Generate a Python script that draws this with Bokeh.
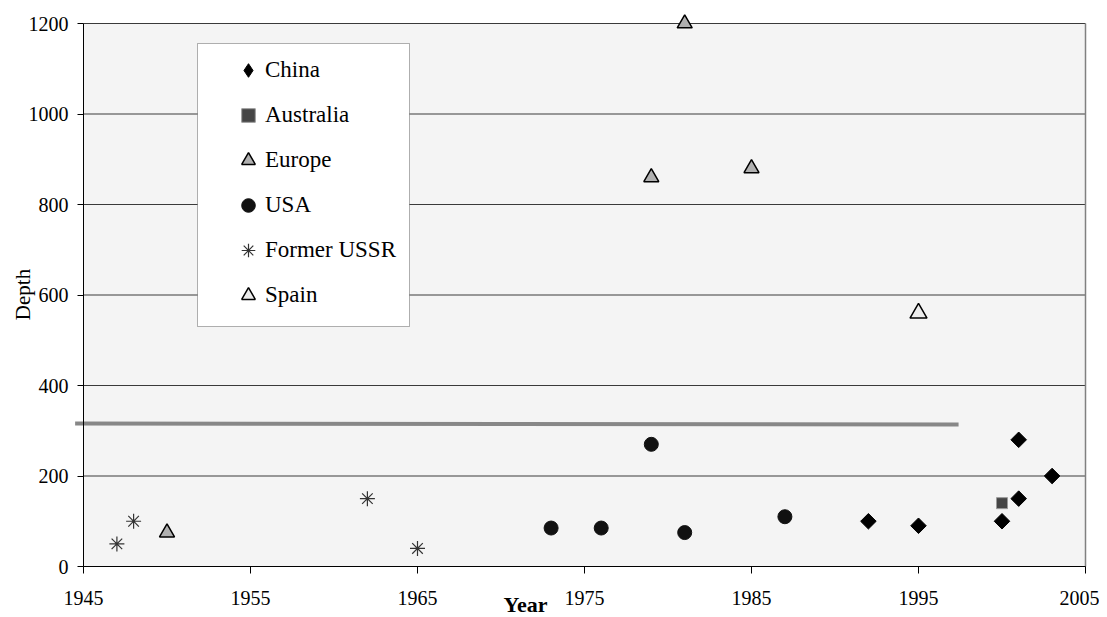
import numpy as np
from bokeh.plotting import figure
from bokeh.models import (Range1d, FixedTicker, Legend, LegendItem, BoxAnnotation, Label)
from bokeh.embed import file_html
from bokeh.resources import INLINE

# ---- data ----
china_year = [1992, 1995, 2000, 2001, 2001, 2003]
china_depth = [100, 90, 100, 280, 150, 200]
australia_year = [2000]
australia_depth = [140]
europe_year = [1950, 1979, 1981, 1985]
europe_depth = [75, 860, 1200, 880]
usa_year = [1973, 1976, 1979, 1981, 1987]
usa_depth = [85, 85, 270, 75, 110]
ussr_year = [1947, 1948, 1962, 1965]
ussr_depth = [50, 100, 150, 40]
spain_year = [1995]
spain_depth = [560]
trend_year = [1944.5, 1997.4]
trend_depth = [316, 314]

x_ticks = [1945, 1955, 1965, 1975, 1985, 1995, 2005]
y_ticks = [0, 200, 400, 600, 800, 1000, 1200]

FONT = "Liberation Serif"

# ---- canvas / scale layout (pixels) ----
W, H = 1099, 617
PLOT_L, PLOT_R, PLOT_T, PLOT_B = 83, 1085, 23, 566
X0, X1 = x_ticks[0], x_ticks[-1]
Y0, Y1 = y_ticks[0], y_ticks[-1]
sx = (PLOT_R - PLOT_L) / (X1 - X0)
sy = (PLOT_B - PLOT_T) / (Y1 - Y0)
x_range = Range1d(X0 - PLOT_L / sx, X1 + (W - PLOT_R) / sx)
y_range = Range1d(Y0 - (H - PLOT_B) / sy, Y1 + PLOT_T / sy)

def px_x(px):
    return X0 + (px - PLOT_L) / sx

def px_y(py):
    return Y0 + (PLOT_B - py) / sy

p = figure(width=W, height=H, output_backend="svg", toolbar_location=None,
           x_range=x_range, y_range=y_range,
           min_border=0, min_border_left=0, min_border_right=0,
           min_border_top=0, min_border_bottom=0,
           background_fill_color="white", border_fill_color="white")
p.outline_line_color = None
p.xgrid.visible = False
p.ygrid.visible = False

# plot-area background
p.add_layout(BoxAnnotation(left=X0, right=X1, bottom=Y0, top=Y1,
                           fill_color="#f4f4f4", fill_alpha=1.0, line_color=None,
                           level="image"))

# horizontal grid lines and right border
p.segment(x0=[X0] * len(y_ticks), y0=y_ticks, x1=[X1] * len(y_ticks), y1=y_ticks,
          line_color="#3a3a3a", line_width=1.2)
p.segment(x0=[X1], y0=[Y0], x1=[X1], y1=[Y1], line_color="#808080", line_width=1.5)

# axes drawn inside the frame at fixed locations
for ax in (p.xaxis[0], p.yaxis[0]):
    ax.axis_line_color = "black"
    ax.axis_line_width = 1
    ax.major_tick_line_color = "black"
    ax.minor_tick_line_color = None
    ax.major_tick_in = 0
    ax.major_label_text_font = FONT
    ax.major_label_text_font_size = "20px"
    ax.major_label_text_color = "black"
p.xaxis.ticker = FixedTicker(ticks=x_ticks)
p.yaxis.ticker = FixedTicker(ticks=y_ticks)
p.xaxis.fixed_location = Y0
p.yaxis.fixed_location = X0
p.xaxis.bounds = (X0, X1)
p.yaxis.bounds = (Y0, Y1)
p.xaxis.major_tick_out = 7
p.yaxis.major_tick_out = 6
p.xaxis.major_label_standoff = 17
p.yaxis.major_label_standoff = 9

# horizontal reference line
p.line(trend_year, trend_depth, line_color="#878787", line_width=4)

r_china = p.scatter(china_year, china_depth, marker="square", angle=np.pi / 4, size=11,
                    fill_color="black", line_color="black")
r_aus = p.scatter(australia_year, australia_depth, marker="square", size=11,
                  fill_color="#454545", line_color="#9a9a9a", line_width=1)
r_eur = p.scatter(europe_year, europe_depth, marker="triangle", size=15,
                  fill_color="#b0b0b0", line_color="black", line_width=1.5)
r_usa = p.scatter(usa_year, usa_depth, marker="circle", size=14,
                  fill_color="#111111", line_color="#111111")
r_ussr = p.scatter(ussr_year, ussr_depth, marker="asterisk", size=15,
                   line_color="#333333", line_width=1.2)
r_spain = p.scatter(spain_year, spain_depth, marker="triangle", size=17,
                    fill_color="#ececec", line_color="black", line_width=1.5)

# hidden renderer providing the diamond symbol for the legend
r_china_leg = p.scatter(china_year, china_depth, marker="diamond", size=11,
                        fill_color="black", line_color="black", visible=False)

# legend box
p.add_layout(BoxAnnotation(left=px_x(197), right=px_x(409), bottom=px_y(326), top=px_y(43),
                           fill_color="white", fill_alpha=1.0, line_color="black",
                           line_width=1))

legend = Legend(items=[
    LegendItem(label="China", renderers=[r_china_leg]),
    LegendItem(label="Australia", renderers=[r_aus]),
    LegendItem(label="Europe", renderers=[r_eur]),
    LegendItem(label="USA", renderers=[r_usa]),
    LegendItem(label="Former USSR", renderers=[r_ussr]),
    LegendItem(label="Spain", renderers=[r_spain]),
], location=(231, H - 313), orientation="vertical",
    glyph_width=34, glyph_height=36, label_height=36, spacing=9,
    label_standoff=0, padding=0, margin=0,
    border_line_color=None, background_fill_alpha=0,
    label_text_font=FONT, label_text_font_size="23px", label_text_color="black")
p.add_layout(legend, "center")

# axis titles
p.add_layout(Label(x=px_x(22), y=px_y(294), text="Depth", angle=np.pi / 2,
                   text_font=FONT, text_font_size="21px", text_color="black",
                   text_align="center", text_baseline="middle"))
p.add_layout(Label(x=px_x(525), y=px_y(604), text="Year",
                   text_font=FONT, text_font_size="22px", text_font_style="bold",
                   text_color="black", text_align="center", text_baseline="middle"))

open("out.html", "w").write(file_html(p, INLINE))
